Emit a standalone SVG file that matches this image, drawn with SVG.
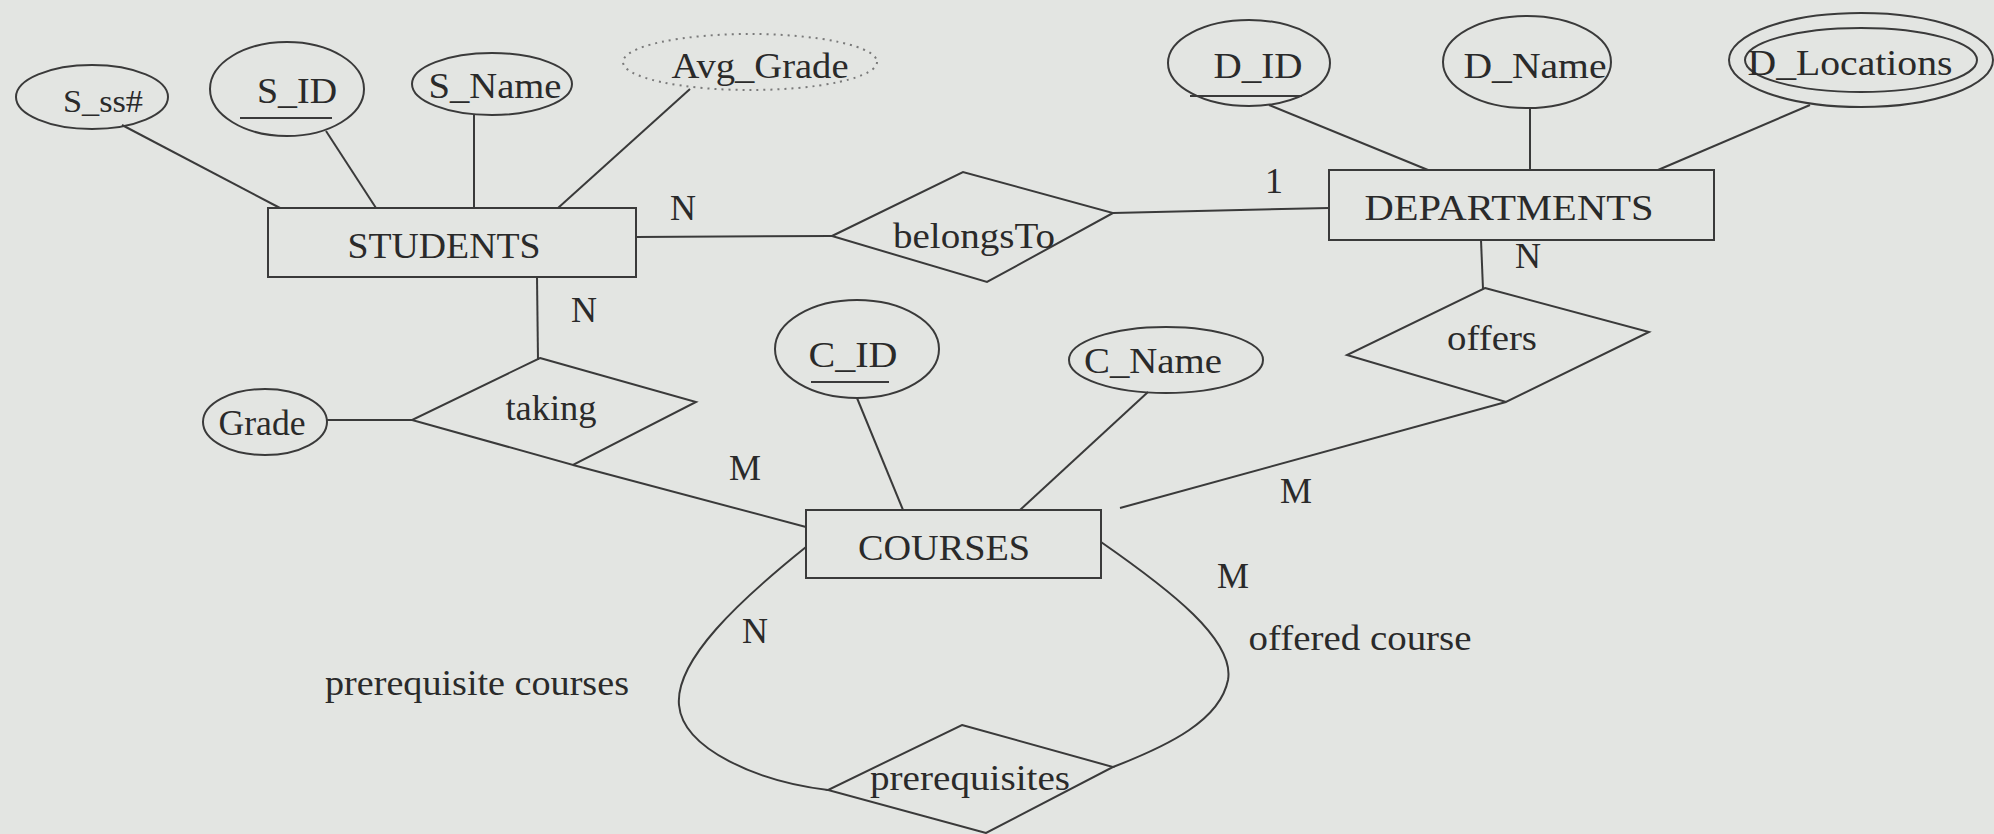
<svg xmlns="http://www.w3.org/2000/svg" width="1994" height="834" viewBox="0 0 1994 834">
<style>
.bg{fill:#e3e5e2}
.sh{fill:none;stroke:#3a3a3a;stroke-width:2}
.dot{fill:none;stroke:#7a7a7a;stroke-width:2;stroke-dasharray:2 5}
.ln{fill:none;stroke:#3a3a3a;stroke-width:2}
.t{font-family:"Liberation Serif","Times New Roman",serif;font-size:36px;fill:#2a2a2a;text-anchor:middle}
.s{font-size:32px}
</style>
<rect class="bg" x="0" y="0" width="1994" height="834"/>
<g id="connectors">
<line class="ln" x1="122" y1="125" x2="280" y2="208"/>
<line class="ln" x1="326" y1="131" x2="376" y2="208"/>
<line class="ln" x1="474" y1="115" x2="474" y2="208"/>
<line class="ln" x1="690" y1="89" x2="558" y2="208"/>
<line class="ln" x1="636" y1="237" x2="832" y2="236"/>
<line class="ln" x1="1113" y1="213" x2="1329" y2="208"/>
<line class="ln" x1="1269" y1="105" x2="1428" y2="170"/>
<line class="ln" x1="1530" y1="108" x2="1530" y2="170"/>
<line class="ln" x1="1810" y1="105" x2="1658" y2="170"/>
<line class="ln" x1="1481" y1="240" x2="1483" y2="289"/>
<line class="ln" x1="1506" y1="402" x2="1120" y2="508"/>
<line class="ln" x1="537" y1="277" x2="538" y2="360"/>
<line class="ln" x1="327" y1="420" x2="412" y2="420"/>
<line class="ln" x1="573" y1="465" x2="806" y2="527"/>
<line class="ln" x1="857" y1="398" x2="903" y2="510"/>
<line class="ln" x1="1148" y1="392" x2="1020" y2="510"/>
<path class="ln" d="M806 547 C740 600 675 660 679 705 C683 750 760 782 828 790"/>
<path class="ln" d="M1101 542 C1170 590 1235 640 1228 680 C1220 720 1170 745 1113 767"/>
<text class="t" x="683" y="220">N</text>
<text class="t" x="1274" y="193">1</text>
<text class="t" x="1528" y="268">N</text>
<text class="t" x="584" y="322">N</text>
<text class="t" x="745" y="480">M</text>
<text class="t" x="1296" y="503">M</text>
<text class="t" x="1233" y="588">M</text>
<text class="t" x="755" y="643">N</text>
<text class="t" x="1360" y="650" textLength="223" lengthAdjust="spacingAndGlyphs">offered course</text>
<text class="t" x="477" y="695" textLength="304" lengthAdjust="spacingAndGlyphs">prerequisite courses</text>
</g>
<g id="S_ss">
<ellipse class="sh" cx="92" cy="97" rx="76" ry="32"/>
<text class="t s" x="103" y="112" textLength="80" lengthAdjust="spacingAndGlyphs">S_ss#</text>
</g>
<g id="S_ID">
<ellipse class="sh" cx="287" cy="89" rx="77" ry="47"/>
<text class="t" x="297" y="103" textLength="80" lengthAdjust="spacingAndGlyphs">S_ID</text>
<line class="ln" x1="240" y1="118" x2="332" y2="118"/>
</g>
<g id="S_Name">
<ellipse class="sh" cx="492" cy="84" rx="80" ry="31"/>
<text class="t" x="495" y="98" textLength="133" lengthAdjust="spacingAndGlyphs">S_Name</text>
</g>
<g id="Avg_Grade">
<ellipse class="dot" cx="750" cy="62" rx="127" ry="28"/>
<text class="t" x="760" y="78" textLength="177" lengthAdjust="spacingAndGlyphs">Avg_Grade</text>
</g>
<g id="STUDENTS">
<rect class="sh" x="268" y="208" width="368" height="69"/>
<text class="t" x="444" y="258" textLength="193" lengthAdjust="spacingAndGlyphs">STUDENTS</text>
</g>
<g id="belongsTo">
<polygon class="sh" points="832,236 963,172 1113,213 987,282"/>
<text class="t" x="974" y="248" textLength="162" lengthAdjust="spacingAndGlyphs">belongsTo</text>
</g>
<g id="D_ID">
<ellipse class="sh" cx="1249" cy="63" rx="81" ry="43"/>
<text class="t" x="1258" y="78" textLength="89" lengthAdjust="spacingAndGlyphs">D_ID</text>
<line class="ln" x1="1190" y1="96" x2="1302" y2="96"/>
</g>
<g id="D_Name">
<ellipse class="sh" cx="1527" cy="62" rx="84" ry="46"/>
<text class="t" x="1535" y="78" textLength="143" lengthAdjust="spacingAndGlyphs">D_Name</text>
</g>
<g id="D_Locations">
<ellipse class="sh" cx="1861" cy="60" rx="132" ry="47"/>
<ellipse class="sh" cx="1861" cy="60" rx="116" ry="32"/>
<text class="t" x="1850" y="75" textLength="205" lengthAdjust="spacingAndGlyphs">D_Locations</text>
</g>
<g id="DEPARTMENTS">
<rect class="sh" x="1329" y="170" width="385" height="70"/>
<text class="t" x="1509" y="220" textLength="289" lengthAdjust="spacingAndGlyphs">DEPARTMENTS</text>
</g>
<g id="offers">
<polygon class="sh" points="1485,288 1649,332 1506,402 1347,355"/>
<text class="t" x="1492" y="350" textLength="90" lengthAdjust="spacingAndGlyphs">offers</text>
</g>
<g id="taking">
<polygon class="sh" points="540,358 696,402 573,465 412,420"/>
<text class="t" x="551" y="420" textLength="91" lengthAdjust="spacingAndGlyphs">taking</text>
</g>
<g id="Grade">
<ellipse class="sh" cx="265" cy="422" rx="62" ry="33"/>
<text class="t" x="262" y="435" textLength="87" lengthAdjust="spacingAndGlyphs">Grade</text>
</g>
<g id="C_ID">
<ellipse class="sh" cx="857" cy="349" rx="82" ry="49"/>
<text class="t" x="853" y="367" textLength="89" lengthAdjust="spacingAndGlyphs">C_ID</text>
<line class="ln" x1="811" y1="382" x2="889" y2="382"/>
</g>
<g id="C_Name">
<ellipse class="sh" cx="1166" cy="360" rx="97" ry="33"/>
<text class="t" x="1153" y="373" textLength="138" lengthAdjust="spacingAndGlyphs">C_Name</text>
</g>
<g id="COURSES">
<rect class="sh" x="806" y="510" width="295" height="68"/>
<text class="t" x="944" y="560" textLength="172" lengthAdjust="spacingAndGlyphs">COURSES</text>
</g>
<g id="prerequisites">
<polygon class="sh" points="962,725 1113,767 986,833 828,790"/>
<text class="t" x="970" y="790" textLength="200" lengthAdjust="spacingAndGlyphs">prerequisites</text>
</g>
</svg>
